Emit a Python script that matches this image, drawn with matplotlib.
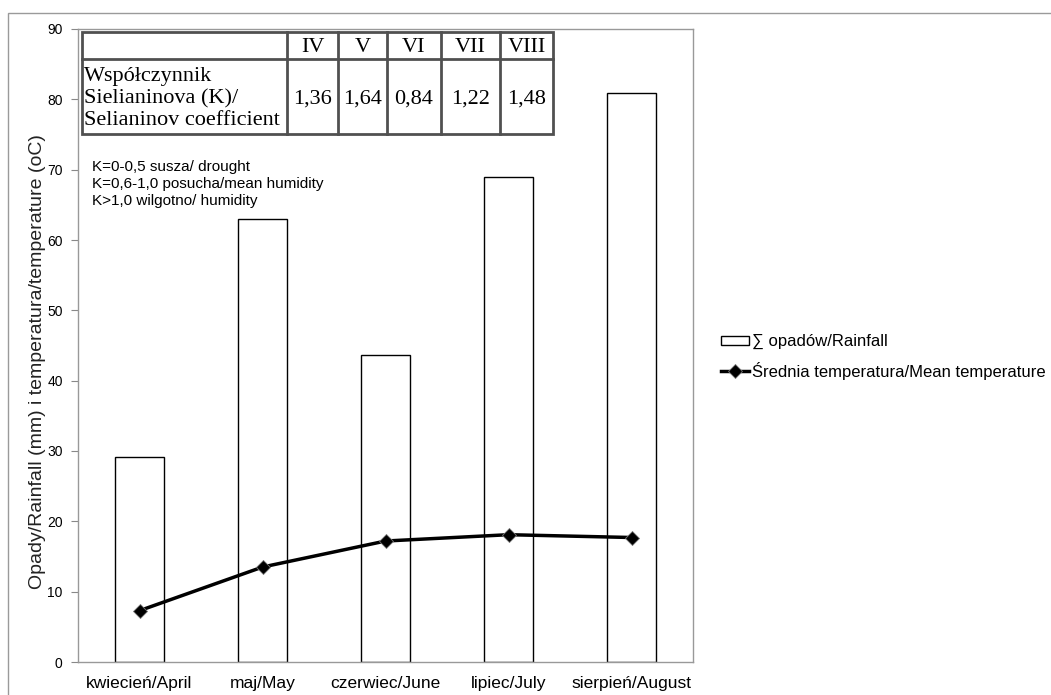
import matplotlib.pyplot as plt
from matplotlib.patches import Rectangle
from matplotlib.lines import Line2D

# dane
months = ["kwiecień/April", "maj/May", "czerwiec/June", "lipiec/July", "sierpień/August"]
rainfall = [29.2, 63.0, 43.6, 68.9, 80.9]
temperature = [7.3, 13.5, 17.2, 18.1, 17.7]
roman = ["IV", "V", "VI", "VII", "VIII"]
k_values = ["1,36", "1,64", "0,84", "1,22", "1,48"]
k_notes = ["K=0-0,5 susza/ drought",
           "K=0,6-1,0 posucha/mean humidity",
           "K>1,0 wilgotno/ humidity"]

plt.rcParams["font.family"] = ["Liberation Sans", "DejaVu Sans"]

W, H = 1051, 695
fig = plt.figure(figsize=(W / 100, H / 100), dpi=100)


def fx(px):
    return px / W


def fy(py):
    return 1 - py / H


# ramka wykresu
fig.patches.append(Rectangle((8 / W, -0.1), 1.2, 1 - 13 / H + 0.1, transform=fig.transFigure,
                             fill=False, edgecolor="#9a9a9a", lw=1, zorder=0))

ax = fig.add_axes([78 / W, (H - 662) / H, (693 - 78) / W, (662 - 29) / H])
x = list(range(len(months)))
bars = ax.bar(x, rainfall, width=0.4, color="white", edgecolor="black", lw=1, zorder=2)
line, = ax.plot(x, temperature, color="black", lw=2.5, marker="D", markersize=7,
                markeredgecolor="#777777", markeredgewidth=0.6, zorder=3)

ax.set_xlim(-0.5, 4.5)
ax.set_ylim(0, 90)
ax.set_yticks(range(0, 91, 10))
ax.set_xticks(x)
ax.set_xticklabels(months, fontsize=12.5)
ax.tick_params(axis="x", length=0, pad=10)
ax.tick_params(axis="y", length=5, color="#888888", labelsize=10, pad=6)
for s in ax.spines.values():
    s.set_color("#999999")
    s.set_linewidth(1)
ax.set_ylabel("Opady/Rainfall (mm) i temperatura/temperature (oC)", fontsize=14, color="#222222")
ax.yaxis.set_label_coords((46 - 78) / 615, (662 - 362) / 633)

# tabela wspolczynnika
cols = [82, 287, 338, 387, 441, 500, 553]
ty0, ty1, ty2 = 32, 59, 134
lc = "#505050"

fig.add_artist(Rectangle((fx(cols[0]), fy(ty2)), fx(cols[-1] - cols[0]), (ty2 - ty0) / H,
                         transform=fig.transFigure, fill=False, edgecolor=lc, lw=2))
fig.add_artist(Line2D([fx(cols[0]), fx(cols[-1])], [fy(ty1), fy(ty1)],
                      transform=fig.transFigure, color=lc, lw=2))
for c in cols[1:-1]:
    fig.add_artist(Line2D([fx(c), fx(c)], [fy(ty0), fy(ty2)], transform=fig.transFigure, color=lc, lw=2))
for i in range(5):
    cx = (cols[i + 1] + cols[i + 2]) / 2
    fig.text(fx(cx), fy((ty0 + ty1) / 2 + 2), roman[i], ha="center", va="center",
             family="Liberation Serif", fontsize=16)
    fig.text(fx(cx), fy((ty1 + ty2) / 2 + 3), k_values[i], ha="center", va="center",
             family="Liberation Serif", fontsize=16)
fig.text(fx(84), fy((ty1 + ty2) / 2 + 2), "Współczynnik\nSielianinova (K)/\nSelianinov coefficient",
         ha="left", va="center", family="Liberation Serif", fontsize=16, linespacing=1.18)

fig.text(fx(92), fy(184), "\n".join(k_notes), ha="left", va="center", fontsize=11,
         linespacing=1.3)

# legenda
ax.legend([bars, line], ["∑ opadów/Rainfall", "Średnia temperatura/Mean temperature"],
          loc="center left", bbox_to_anchor=(714 / W, fy(357)), bbox_transform=fig.transFigure,
          frameon=False, fontsize=12, handlelength=1.7, handleheight=0.5, handletextpad=0.15,
          labelspacing=0.75, borderaxespad=0)

fig.savefig("out.png", dpi=100)
